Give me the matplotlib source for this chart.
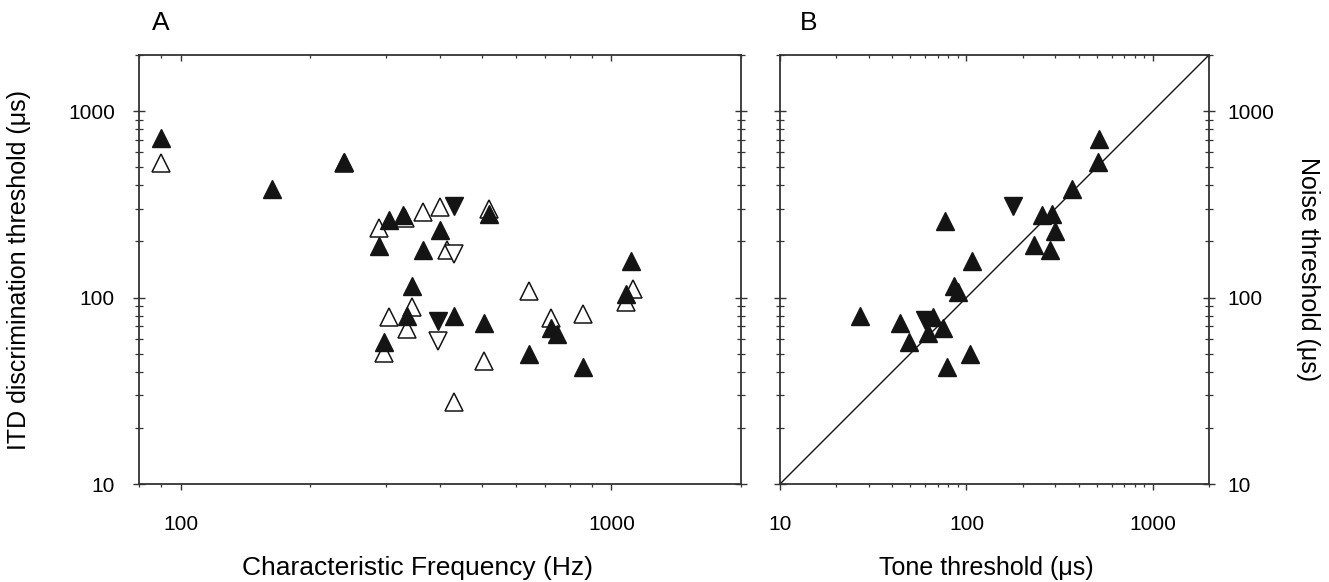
import matplotlib
matplotlib.use("Agg")
import matplotlib.pyplot as plt
import matplotlib.ticker as ticker

plt.rcParams['font.family'] = ['Liberation Sans', 'DejaVu Sans']

# Panel A: characteristic frequency (Hz) vs ITD threshold (us)
a_fill_up_cf = [90, 163, 239, 288, 305, 329, 401, 366, 520, 345, 335, 432, 505, 297, 1111, 1079, 724, 747, 643, 857]
a_fill_up_thr = [718, 384, 531, 190, 261, 277, 229, 181, 279, 116, 79.5, 80, 73, 58, 158, 105, 69, 64, 50, 42.5]
a_fill_dn_cf = [432, 396]
a_fill_dn_thr = [309, 75]
a_open_up_cf = [90, 239, 288, 332, 366, 401, 415, 520, 345, 304, 335, 297, 505, 432, 1120, 1079, 643, 724, 857]
a_open_up_thr = [527, 524, 236, 266, 286, 307, 181, 299, 89, 79, 67.5, 50.6, 45.8, 27.5, 111, 94.5, 109, 77.8, 82]
a_open_dn_cf = [432, 396]
a_open_dn_thr = [171, 58.7]

# Panel B: tone threshold vs noise threshold (us)
b_up_tone = [512, 510, 368, 77, 254, 287, 299, 229, 279, 107, 86, 90, 27, 44, 66, 75, 62, 49, 105, 79]
b_up_noise = [713, 531, 384, 258, 277, 281, 228, 191, 181, 157, 116, 107, 80, 73, 79, 68.5, 64.5, 58, 50, 42.4]
b_dn_tone = [177, 60]
b_dn_noise = [309, 76]

ink = '#141414'
ms = 13

fig = plt.figure(figsize=(13.29, 5.82), dpi=100)
axA = fig.add_axes([139/1329, 1-484/582, 602/1329, 429/582])
axB = fig.add_axes([780/1329, 1-484/582, 429/1329, 429/582])

def style(ax, xlim, ylim):
    ax.set_xscale('log')
    ax.set_yscale('log')
    ax.set_xlim(*xlim)
    ax.set_ylim(*ylim)
    fmt = ticker.FuncFormatter(lambda v, p: '%g' % v)
    ax.xaxis.set_major_formatter(fmt)
    ax.yaxis.set_major_formatter(fmt)
    ax.xaxis.set_minor_formatter(ticker.NullFormatter())
    ax.yaxis.set_minor_formatter(ticker.NullFormatter())
    for s in ax.spines.values():
        s.set_linewidth(1.3)
        s.set_color('#333333')
    ax.tick_params(axis='x', which='major', direction='out', length=4, width=1, pad=18,
                   labelsize=15, color='#333333')
    ax.tick_params(axis='x', which='minor', direction='out', length=2.2, width=0.9, color='#333333')
    ax.tick_params(axis='y', which='major', direction='inout', length=8.6, width=1, pad=13,
                   labelsize=15, left=True, right=True, color='#333333')
    ax.tick_params(axis='y', which='minor', direction='inout', length=5.8, width=0.9,
                   left=True, right=True, color='#333333')
    top = ax.twiny()
    top.set_xscale('log')
    top.set_xlim(*xlim)
    top.tick_params(axis='x', which='major', direction='in', length=4.5, width=1, labeltop=False,
                    color='#333333')
    top.tick_params(axis='x', which='minor', direction='in', length=2.5, width=0.9, color='#333333')
    top.xaxis.set_minor_formatter(ticker.NullFormatter())
    for s in top.spines.values():
        s.set_visible(False)

style(axA, (80, 2000), (10, 2000))
style(axB, (10, 2000), (10, 2000))

# panel A
axA.plot(a_open_up_cf, a_open_up_thr, '^', ms=ms, mfc='white', mec=ink, mew=1.1, ls='none')
axA.plot(a_open_dn_cf, a_open_dn_thr, 'v', ms=ms, mfc='white', mec=ink, mew=1.1, ls='none')
axA.plot(a_fill_up_cf, a_fill_up_thr, '^', ms=ms, mfc=ink, mec=ink, mew=1, ls='none')
axA.plot(a_fill_dn_cf, a_fill_dn_thr, 'v', ms=ms, mfc=ink, mec=ink, mew=1, ls='none')
axA.set_xlabel('Characteristic Frequency (Hz)', fontsize=19)
axA.xaxis.set_label_coords(0.463, -0.168)
axA.set_ylabel('ITD discrimination threshold (\u03bcs)', fontsize=18, labelpad=27)
axA.text(161/1329, 1-23/582, 'A', transform=fig.transFigure, fontsize=19, ha='center', va='center')

# panel B
axB.plot([10, 2000], [10, 2000], color=ink, lw=1)
axB.plot(b_up_tone, b_up_noise, '^', ms=ms, mfc=ink, mec=ink, mew=1, ls='none')
axB.plot(b_dn_tone, b_dn_noise, 'v', ms=ms, mfc=ink, mec=ink, mew=1, ls='none')
axB.tick_params(axis='y', which='both', labelleft=False, labelright=True, pad=9)
axB.yaxis.set_label_position('right')
axB.set_xlabel('Tone threshold (\u03bcs)', fontsize=18)
axB.xaxis.set_label_coords(0.48, -0.168)
axB.set_ylabel('Noise threshold (\u03bcs)', fontsize=18, rotation=-90, labelpad=33)
axB.text(809/1329, 1-23/582, 'B', transform=fig.transFigure, fontsize=19, ha='center', va='center')

fig.savefig('out.png', dpi=100)
